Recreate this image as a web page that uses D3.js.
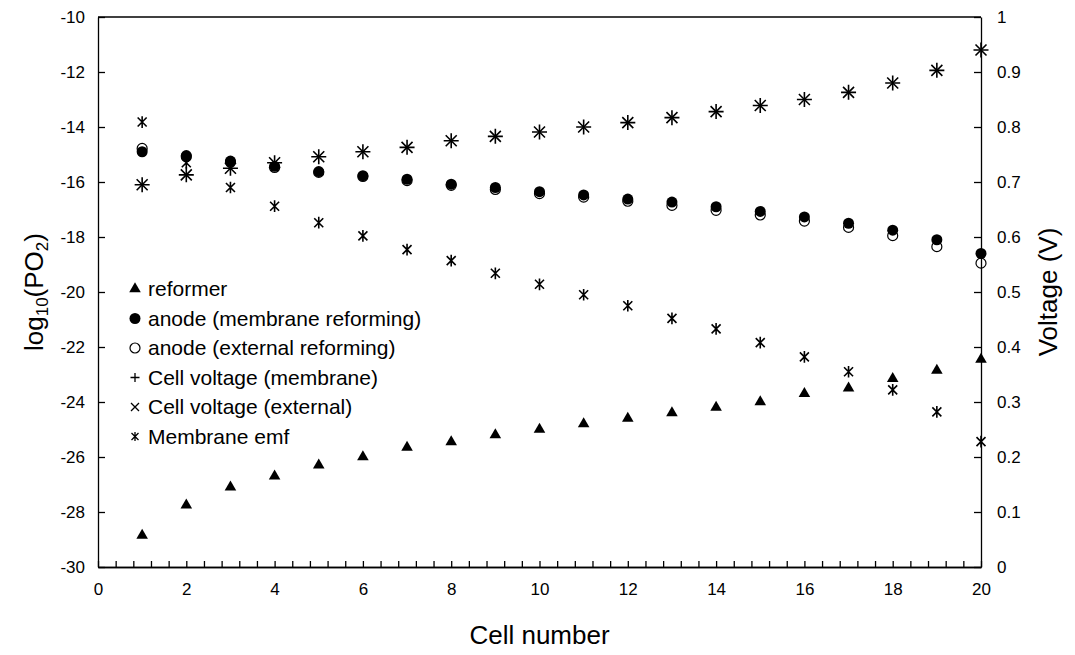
<!DOCTYPE html>
<html>
<head>
<meta charset="UTF-8" />
<title>PO2 and voltage along cells</title>
<script src="https://d3js.org/d3.v7.min.js"></script>
<style>
  body { margin: 0; background: #fff; }
  text { font-family: "Liberation Sans", Arial, sans-serif; fill: #000; }
  .domain, .tick line { stroke: #000; stroke-width: 1.3; }
</style>
</head>
<body>
<script type="text/javascript">
var cells = [1, 2, 3, 4, 5, 6, 7, 8, 9, 10, 11, 12, 13, 14, 15, 16, 17, 18, 19, 20];
var reformer = [-28.85, -27.75, -27.1, -26.7, -26.3, -26.0, -25.65, -25.45, -25.2, -25.0,
                -24.8, -24.6, -24.4, -24.2, -24.0, -23.7, -23.5, -23.15, -22.85, -22.45];
var anodeMembrane = [-14.9, -15.04, -15.24, -15.43, -15.62, -15.77, -15.9, -16.08, -16.2, -16.35,
                     -16.47, -16.62, -16.73, -16.9, -17.07, -17.27, -17.5, -17.75, -18.1, -18.6];
var anodeExternal = [-14.78, -15.08, -15.28, -15.47, -15.65, -15.8, -15.95, -16.12, -16.27, -16.42,
                     -16.55, -16.7, -16.85, -17.03, -17.2, -17.42, -17.65, -17.95, -18.35, -18.95];
var voltMembrane = [0.695, 0.713, 0.725, 0.735, 0.746, 0.755, 0.763, 0.775, 0.783, 0.791,
                    0.8, 0.808, 0.817, 0.828, 0.839, 0.85, 0.863, 0.88, 0.903, 0.94];
var voltExternal = [0.695, 0.713, 0.725, 0.735, 0.746, 0.755, 0.763, 0.775, 0.783, 0.791,
                    0.8, 0.808, 0.817, 0.828, 0.839, 0.85, 0.863, 0.88, 0.903, 0.94];
var membraneEmf = [0.809, 0.735, 0.69, 0.656, 0.626, 0.602, 0.577, 0.557, 0.534, 0.514,
                   0.495, 0.475, 0.452, 0.433, 0.408, 0.382, 0.355, 0.322, 0.282, 0.228];
var xTicks = [0, 2, 4, 6, 8, 10, 12, 14, 16, 18, 20];
var yLeftTicks = [-30, -28, -26, -24, -22, -20, -18, -16, -14, -12, -10];
var yRightTicks = [0, 0.1, 0.2, 0.3, 0.4, 0.5, 0.6, 0.7, 0.8, 0.9, 1];
var legendNames = ["reformer", "anode (membrane reforming)", "anode (external reforming)",
                   "Cell voltage (membrane)", "Cell voltage (external)", "Membrane emf"];

var width = 1075, height = 655;
var margin = {top: 17, right: 94, bottom: 88, left: 98};
var w = width - margin.left - margin.right;
var h = height - margin.top - margin.bottom;

var svg = d3.select("body").append("svg").attr("width", width).attr("height", height);
var g = svg.append("g").attr("transform", "translate(" + margin.left + "," + margin.top + ")");

var x = d3.scaleLinear().domain([0, 20]).range([0, w]);
var yL = d3.scaleLinear().domain([-30, -10]).range([h, 0]);
var yR = d3.scaleLinear().domain([0, 1]).range([h, 0]);

// minor ticks on the bottom axis every 0.4
var xMinor = d3.range(0, 20.01, 0.4);
g.append("g").attr("transform", "translate(0," + h + ")")
  .call(d3.axisBottom(x).tickValues(xMinor).tickSizeInner(-6).tickSizeOuter(0).tickFormat(""));
var xa = g.append("g").attr("transform", "translate(0," + h + ")")
  .call(d3.axisBottom(x).tickValues(xTicks).tickSizeInner(0).tickSizeOuter(0).tickPadding(16));
xa.selectAll("text").style("font-size", "17px");

// plain hyphen for negatives, like the original
var yla = g.append("g")
  .call(d3.axisLeft(yL).tickValues(yLeftTicks).tickSizeInner(-7).tickSizeOuter(0).tickPadding(13)
    .tickFormat(function(d) { return String(d); }));
yla.selectAll("text").style("font-size", "17px");

var yra = g.append("g").attr("transform", "translate(" + w + ",0)")
  .call(d3.axisRight(yR).tickValues(yRightTicks).tickSizeInner(-7).tickSizeOuter(0).tickPadding(16)
    .tickFormat(function(d) { return String(+d.toFixed(1)); }));
yra.selectAll("text").style("font-size", "17px");

// top border
g.append("line").attr("x1", 0).attr("x2", w).attr("y1", 0).attr("y2", 0)
  .attr("stroke", "#000").attr("stroke-width", 1.3);

// axis titles
svg.append("text").attr("x", margin.left + w / 2).attr("y", 644)
  .attr("text-anchor", "middle").style("font-size", "26px").text("Cell number");

var lt = svg.append("text").attr("transform", "translate(43," + (margin.top + h / 2) + ") rotate(-90)")
  .attr("text-anchor", "middle").style("font-size", "26px");
lt.append("tspan").text("log");
lt.append("tspan").attr("dy", 5).style("font-size", "17px").text("10");
lt.append("tspan").attr("dy", -5).text("(PO");
lt.append("tspan").attr("dy", 5).style("font-size", "17px").text("2");
lt.append("tspan").attr("dy", -5).text(")");

svg.append("text").attr("transform", "translate(1057," + (margin.top + h / 2) + ") rotate(-90)")
  .attr("text-anchor", "middle").style("font-size", "26px").text("Voltage (V)");

// marker shapes
function plusPath(s) { return "M" + (-s) + ",0L" + s + ",0M0," + (-s) + "L0," + s; }
function crossPath(s) { return "M" + (-s) + "," + (-s) + "L" + s + "," + s + "M" + (-s) + "," + s + "L" + s + "," + (-s); }
function starPath(s) { return crossPath(s) + "M0," + (-s * 1.3) + "L0," + (s * 1.3); }

function drawMarker(sel, kind) {
  if (kind === "tri") {
    sel.append("path").attr("d", d3.symbol().type(d3.symbolTriangle).size(58)()).attr("fill", "#000");
  } else if (kind === "dot") {
    sel.append("circle").attr("r", 5.5).attr("fill", "#000");
  } else if (kind === "ring") {
    sel.append("circle").attr("r", 5).attr("fill", "none").attr("stroke", "#000").attr("stroke-width", 1.2);
  } else if (kind === "plus") {
    sel.append("path").attr("d", plusPath(7.5)).attr("stroke", "#000").attr("stroke-width", 1.6).attr("fill", "none");
  } else if (kind === "cross") {
    sel.append("path").attr("d", crossPath(5.5)).attr("stroke", "#000").attr("stroke-width", 1.6).attr("fill", "none");
  } else if (kind === "star") {
    sel.append("path").attr("d", starPath(4.5)).attr("stroke", "#000").attr("stroke-width", 1.6).attr("fill", "none");
  }
}

var series = [
  {vals: reformer, y: yL, kind: "tri"},
  {vals: anodeMembrane, y: yL, kind: "dot"},
  {vals: anodeExternal, y: yL, kind: "ring"},
  {vals: voltMembrane, y: yR, kind: "plus"},
  {vals: voltExternal, y: yR, kind: "cross"},
  {vals: membraneEmf, y: yR, kind: "star"}
];

series.forEach(function(s) {
  g.append("g").selectAll("g").data(cells).enter().append("g")
    .attr("transform", function(d, i) { return "translate(" + x(d) + "," + s.y(s.vals[i]) + ")"; })
    .each(function() { drawMarker(d3.select(this), s.kind); });
});

// legend
var legend = svg.append("g").attr("transform", "translate(135,289)");
legendNames.forEach(function(name, i) {
  var row = legend.append("g").attr("transform", "translate(0," + (i * 29.5) + ")");
  var m = row.append("g");
  var k = series[i].kind;
  if (k === "plus") { m.append("path").attr("d", plusPath(4.5)).attr("stroke", "#000").attr("stroke-width", 1.3); }
  else if (k === "cross") { m.append("path").attr("d", crossPath(4)).attr("stroke", "#000").attr("stroke-width", 1.3); }
  else if (k === "star") { m.append("path").attr("d", starPath(3.5)).attr("stroke", "#000").attr("stroke-width", 1.3); }
  else drawMarker(m, k);
  row.append("text").attr("x", 13).attr("dy", "0.35em").style("font-size", "21px").text(name);
});
</script>
</body>
</html>
